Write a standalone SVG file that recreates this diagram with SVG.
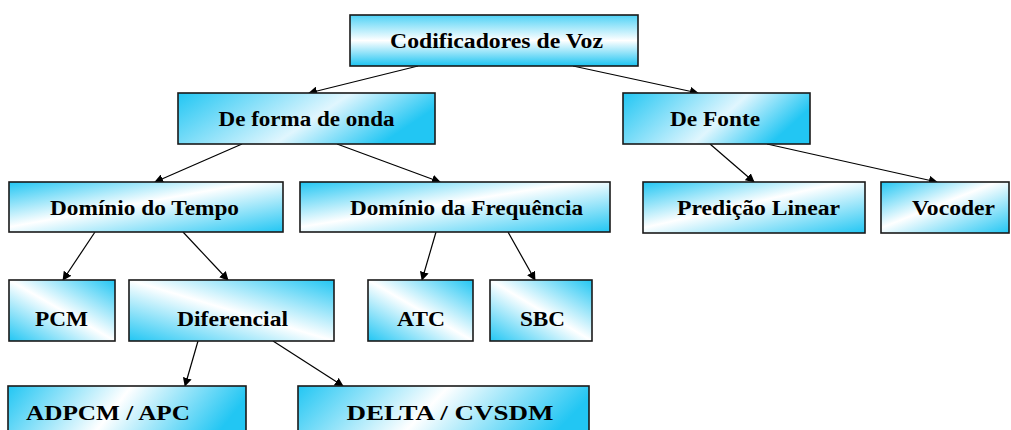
<svg xmlns="http://www.w3.org/2000/svg" width="1011" height="430" viewBox="0 0 1011 430">
<style>
.box{stroke:#1a1a1a;stroke-width:1.6}
.lbl{font-family:"Liberation Serif","Times New Roman",Times,serif;font-weight:bold;font-size:20px;fill:#000;text-anchor:middle}
.con{stroke:#000;stroke-width:1.2;fill:none;marker-end:url(#ah)}
</style>
<defs>
<marker id="ah" viewBox="0 0 10 10" refX="9" refY="5" markerWidth="9" markerHeight="9" markerUnits="userSpaceOnUse" orient="auto">
<path d="M0,0 L10,5 L0,10 Z" fill="#000"/>
</marker>
<linearGradient id="gV" x1="0" y1="0" x2="0" y2="1">
<stop offset="0" stop-color="#4fd2f6"/><stop offset="0.5" stop-color="#ffffff"/><stop offset="1" stop-color="#1cc4f2"/>
</linearGradient>
<linearGradient id="gH" x1="0" y1="0" x2="1" y2="0.3">
<stop offset="0" stop-color="#22c6f3"/><stop offset="0.62" stop-color="#e0f6fe"/><stop offset="1" stop-color="#22c6f3"/>
</linearGradient>
<linearGradient id="gD" x1="0" y1="0" x2="1" y2="1">
<stop offset="0" stop-color="#22c6f3"/><stop offset="0.45" stop-color="#ffffff"/><stop offset="1" stop-color="#22c6f3"/>
</linearGradient>
<linearGradient id="gA" x1="0" y1="1" x2="1" y2="0">
<stop offset="0" stop-color="#22c6f3"/><stop offset="0.5" stop-color="#ffffff"/><stop offset="1" stop-color="#22c6f3"/>
</linearGradient>
<linearGradient id="gB" x1="0" y1="0" x2="1" y2="0.2">
<stop offset="0" stop-color="#22c6f3"/><stop offset="0.5" stop-color="#ffffff"/><stop offset="1" stop-color="#22c6f3"/>
</linearGradient>
</defs>
<g id="connectors">
<line class="con" x1="418" y1="66" x2="309" y2="93"/>
<line class="con" x1="573" y1="66" x2="698" y2="93"/>
<line class="con" x1="242" y1="144" x2="155" y2="182"/>
<line class="con" x1="337" y1="144" x2="440" y2="182"/>
<line class="con" x1="710" y1="144" x2="754" y2="182"/>
<line class="con" x1="767" y1="144" x2="937" y2="182"/>
<line class="con" x1="95" y1="232" x2="63" y2="280"/>
<line class="con" x1="183" y1="232" x2="228" y2="280"/>
<line class="con" x1="436" y1="232" x2="422" y2="280"/>
<line class="con" x1="508" y1="232" x2="535" y2="280"/>
<line class="con" x1="198" y1="341" x2="185" y2="386"/>
<line class="con" x1="273" y1="341" x2="343" y2="386"/>
</g>
<g id="n-codificadores"><rect class="box" x="350" y="15" width="288" height="51" fill="url(#gV)"/><text class="lbl" x="496.5" y="48" textLength="213" lengthAdjust="spacingAndGlyphs">Codificadores de Voz</text></g>
<g id="n-forma-onda"><rect class="box" x="178" y="93" width="257" height="51" fill="url(#gH)"/><text class="lbl" x="306.5" y="126" textLength="176" lengthAdjust="spacingAndGlyphs">De forma de onda</text></g>
<g id="n-fonte"><rect class="box" x="623" y="93" width="187" height="51" fill="url(#gH)"/><text class="lbl" x="715" y="126" textLength="90" lengthAdjust="spacingAndGlyphs">De Fonte</text></g>
<g id="n-tempo"><rect class="box" x="9" y="182" width="274" height="50" fill="url(#gD)"/><text class="lbl" x="144.5" y="215" textLength="189" lengthAdjust="spacingAndGlyphs">Domínio do Tempo</text></g>
<g id="n-frequencia"><rect class="box" x="300" y="182" width="310" height="50" fill="url(#gD)"/><text class="lbl" x="466.5" y="215" textLength="233" lengthAdjust="spacingAndGlyphs">Domínio da Frequência</text></g>
<g id="n-predicao"><rect class="box" x="643" y="182" width="222" height="51" fill="url(#gD)"/><text class="lbl" x="758.5" y="215" textLength="163" lengthAdjust="spacingAndGlyphs">Predição Linear</text></g>
<g id="n-vocoder"><rect class="box" x="881" y="182" width="128" height="51" fill="url(#gD)"/><text class="lbl" x="953.5" y="215" textLength="83" lengthAdjust="spacingAndGlyphs">Vocoder</text></g>
<g id="n-pcm"><rect class="box" x="9" y="280" width="106" height="61" fill="url(#gA)"/><text class="lbl" x="61.5" y="326" textLength="53" lengthAdjust="spacingAndGlyphs">PCM</text></g>
<g id="n-diferencial"><rect class="box" x="129" y="280" width="205" height="61" fill="url(#gA)"/><text class="lbl" x="232.5" y="326" textLength="111" lengthAdjust="spacingAndGlyphs">Diferencial</text></g>
<g id="n-atc"><rect class="box" x="368" y="280" width="105" height="61" fill="url(#gA)"/><text class="lbl" x="421" y="326" textLength="48" lengthAdjust="spacingAndGlyphs">ATC</text></g>
<g id="n-sbc"><rect class="box" x="490" y="280" width="102" height="61" fill="url(#gA)"/><text class="lbl" x="542.5" y="326" textLength="45" lengthAdjust="spacingAndGlyphs">SBC</text></g>
<g id="n-adpcm"><rect class="box" x="8" y="386" width="238" height="60" fill="url(#gB)"/><text class="lbl" x="108" y="420" textLength="164" lengthAdjust="spacingAndGlyphs">ADPCM  /  APC</text></g>
<g id="n-delta"><rect class="box" x="298" y="386" width="291" height="60" fill="url(#gB)"/><text class="lbl" x="450" y="420" textLength="207" lengthAdjust="spacingAndGlyphs">DELTA  /  CVSDM</text></g>
</svg>
